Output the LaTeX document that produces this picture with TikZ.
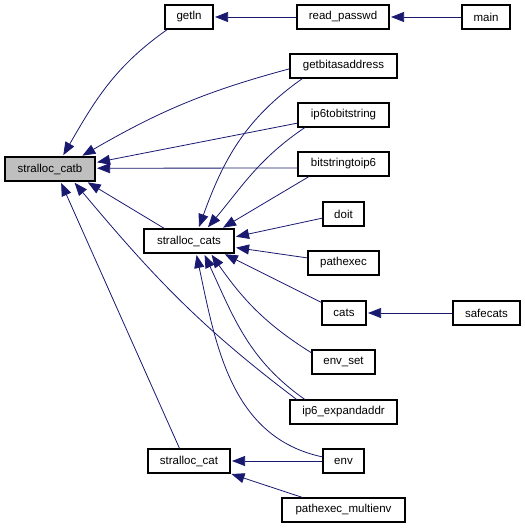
\documentclass[tikz,border=0pt]{standalone}
\usepackage{fontspec}
\setmainfont{Liberation Sans}
\usepackage{xcolor}
\usetikzlibrary{arrows.meta}

\definecolor{edgeblue}{RGB}{25,25,112}
\definecolor{catbgray}{RGB}{191,191,191}

\begin{document}
\begin{tikzpicture}[
    x=1pt, y=1pt,
    font=\fontsize{11.5}{13}\selectfont,
    box/.style={rectangle, draw, line width=1.1pt, fill=white, minimum height=24pt, inner sep=0pt, align=center},
    arrow/.style={-{Triangle[length=13pt, width=10pt]}, edgeblue, line width=0.8pt, shorten >=1.5pt}
]
\useasboundingbox (0,0) rectangle (525,-528);

% Called function
\node[box, fill=catbgray, minimum width=90pt] (catb) at (50,-169) {stralloc\_catb};

% Direct callers
\node[box, minimum width=48pt] (getln) at (189,-17) {getln};
\node[box, minimum width=90pt] (cats2) at (189,-241) {stralloc\_cats};
\node[box, minimum width=82pt] (cat) at (189,-461) {stralloc\_cat};

% Right column
\node[box, minimum width=92pt] (readpw) at (343,-17) {read\_passwd};
\node[box, minimum width=107pt] (getbit) at (343.5,-66) {getbitasaddress};
\node[box, minimum width=91pt] (ip6tobit) at (343.5,-115) {ip6tobitstring};
\node[box, minimum width=91pt] (bittoip6) at (343.5,-164) {bitstringtoip6};
\node[box, minimum width=41pt] (doit) at (343.5,-214) {doit};
\node[box, minimum width=71pt] (pathexec) at (343.5,-263) {pathexec};
\node[box, minimum width=44pt] (cats) at (344,-313) {cats};
\node[box, minimum width=63pt] (envset) at (343.5,-362) {env\_set};
\node[box, minimum width=107pt] (expand) at (343.5,-412) {ip6\_expandaddr};
\node[box, minimum width=41pt] (env) at (343.5,-461) {env};
\node[box, minimum width=123pt] (multienv) at (343.5,-510) {pathexec\_multienv};

% Far right
\node[box, minimum width=48pt] (main) at (486,-17) {main};
\node[box, minimum width=67pt] (safecats) at (486.5,-313) {safecats};

% Arrows into stralloc_catb
\draw[arrow] (getln.210) to[out=215, in=60] (catb.45);
\draw[arrow] (getbit.183) to[out=195, in=30] (catb.22);
\draw[arrow] (ip6tobit.190) -- (catb.8);
\draw[arrow] (bittoip6.185) -- (catb.1);
\draw[arrow] (cats2.153) -- (catb.-19);
\draw[arrow] (expand.165) to[out=143, in=-50] (catb.-28);
\draw[arrow] (cat.127) -- (catb.-50);

% Arrows into stralloc_cats
\draw[arrow] (getbit.197) to[out=215, in=70] (cats2.53);
\draw[arrow] (ip6tobit.198) to[out=214, in=50] (cats2.35);
\draw[arrow] (bittoip6.200) -- (cats2.21);
\draw[arrow] (doit.191) -- (cats2.5);
\draw[arrow] (pathexec.172) -- (cats2.-8);
\draw[arrow] (cats.155) -- (cats2.-20);
\draw[arrow] (envset.164) to[out=148, in=-55] (cats2.-30);
\draw[arrow] (expand.162) to[out=145, in=-65] (cats2.-40);
\draw[arrow] (env.169) to[out=168, in=-78] (cats2.-60);

% Arrows into stralloc_cat
\draw[arrow] (env.west) -- (cat.east);
\draw[arrow] (multienv.163) -- (cat.-17);

% Outer callers
\draw[arrow] (readpw) -- (getln);
\draw[arrow] (main) -- (readpw);
\draw[arrow] (safecats) -- (cats);

\end{tikzpicture}
\end{document}
